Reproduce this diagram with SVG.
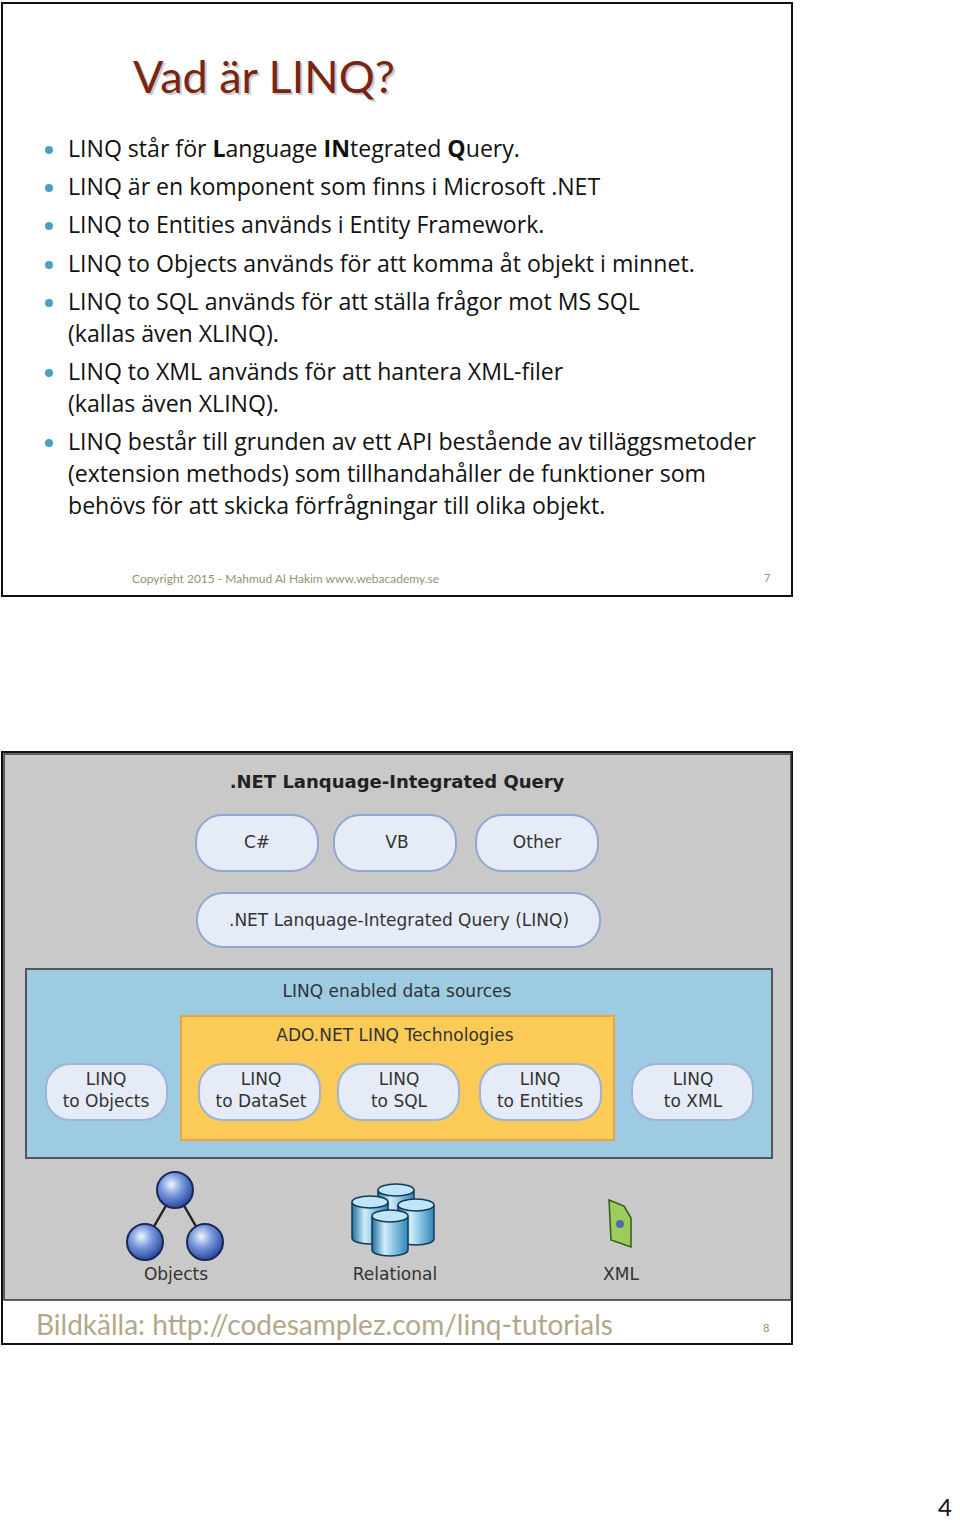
<svg xmlns="http://www.w3.org/2000/svg" width="960" height="1522" viewBox="0 0 960 1522">
<style>
.b{font-family:"Open Sans","Liberation Sans",sans-serif;font-size:23.1px;fill:#111}
.d{font-family:"DejaVu Sans",sans-serif;font-size:17px;fill:#333;text-anchor:middle}
.pill{fill:#e6ecf7;stroke:#8fa6d2;stroke-width:2}
.sp{fill:#e6ecf7;stroke:#9fb3d8;stroke-width:2}
.dot{fill:#4aa0c0}
</style>
<defs>
<radialGradient id="ball" cx="0.4" cy="0.35" r="0.65"><stop offset="0" stop-color="#f2f6ff"/><stop offset="0.45" stop-color="#7c9be0"/><stop offset="1" stop-color="#2a4aa0"/></radialGradient>
<linearGradient id="cyl" x1="0" x2="1"><stop offset="0" stop-color="#1f6f9f"/><stop offset="0.35" stop-color="#cfeefc"/><stop offset="1" stop-color="#2d86b8"/></linearGradient>
</defs>
<rect width="960" height="1522" fill="#fff"/>
<g id="slide1">
<rect x="2" y="3" width="790" height="593" fill="#fff" stroke="#111" stroke-width="2"/>
<text x="135" y="95" font-family="Lato,'Open Sans',sans-serif" font-size="45" fill="#ccc">Vad är LINQ?</text>
<text x="133" y="93" font-family="Lato,'Open Sans',sans-serif" font-size="45" fill="#7a2414">Vad är LINQ?</text>
<g class="dot"><circle cx="49" cy="150" r="4"/><circle cx="49" cy="188" r="4"/><circle cx="49" cy="226" r="4"/><circle cx="49" cy="265" r="4"/><circle cx="49" cy="303" r="4"/><circle cx="49" cy="373" r="4"/><circle cx="49" cy="443" r="4"/></g>
<text class="b" x="68" y="157">LINQ står för <tspan font-weight="bold">L</tspan>anguage <tspan font-weight="bold">IN</tspan>tegrated <tspan font-weight="bold">Q</tspan>uery.</text>
<text class="b" x="68" y="195">LINQ är en komponent som finns i Microsoft .NET</text>
<text class="b" x="68" y="233">LINQ to Entities används i Entity Framework.</text>
<text class="b" x="68" y="272">LINQ to Objects används för att komma åt objekt i minnet.</text>
<text class="b" x="68" y="310">LINQ to SQL används för att ställa frågor mot MS SQL</text>
<text class="b" x="68" y="342">(kallas även XLINQ).</text>
<text class="b" x="68" y="380">LINQ to XML används för att hantera XML-filer</text>
<text class="b" x="68" y="412">(kallas även XLINQ).</text>
<text class="b" x="68" y="450">LINQ består till grunden av ett API bestående av tilläggsmetoder</text>
<text class="b" x="68" y="482">(extension methods) som tillhandahåller de funktioner som</text>
<text class="b" x="68" y="514">behövs för att skicka förfrågningar till olika objekt.</text>
<text x="132" y="583" font-family="Lato,'Open Sans',sans-serif" font-size="12" fill="#9a9070">Copyright 2015 - Mahmud Al Hakim www.webacademy.se</text>
<text x="764" y="582" font-family="Lato,sans-serif" font-size="11" fill="#9a9070">7</text>
</g>
<g id="slide2">
<rect x="2" y="752" width="790" height="592" fill="#fff" stroke="#111" stroke-width="2"/>
<rect x="4" y="754" width="787" height="546" fill="#c9c9c9" stroke="#333" stroke-width="1.5"/>
<text x="397" y="788" font-family="'DejaVu Sans',sans-serif" font-weight="bold" font-size="18" fill="#222" text-anchor="middle">.NET Lanquage-Integrated Query</text>
</g>
<g id="cs"><rect class="pill" x="196" y="815" width="122" height="56" rx="26"/><text class="d" x="257" y="848">C#</text></g>
<g id="vb"><rect class="pill" x="334" y="815" width="122" height="56" rx="26"/><text class="d" x="397" y="848">VB</text></g>
<g id="other"><rect class="pill" x="476" y="815" width="122" height="56" rx="26"/><text class="d" x="537" y="848">Other</text></g>
<g id="linq"><rect class="pill" x="197" y="893" width="403" height="54" rx="26"/><text class="d" x="399" y="926">.NET Lanquage-Integrated Query (LINQ)</text></g>
<g id="sources">
<rect x="26" y="969" width="746" height="189" fill="#9dcbe2" stroke="#555" stroke-width="2"/>
<text class="d" x="397" y="997">LINQ enabled data sources</text>
</g>
<g id="ado">
<rect x="181" y="1016" width="433" height="124" fill="#fccb57" stroke="#e6a542" stroke-width="2"/>
<text class="d" x="395" y="1041">ADO.NET LINQ Technologies</text>
</g>
<g id="lo"><rect class="sp" x="46" y="1064" width="121" height="56" rx="24"/><text class="d" x="106" y="1085">LINQ</text><text class="d" x="106" y="1107">to Objects</text></g>
<g id="ld"><rect class="sp" x="199" y="1064" width="121" height="56" rx="24"/><text class="d" x="261" y="1085">LINQ</text><text class="d" x="261" y="1107">to DataSet</text></g>
<g id="ls"><rect class="sp" x="338" y="1064" width="121" height="56" rx="24"/><text class="d" x="399" y="1085">LINQ</text><text class="d" x="399" y="1107">to SQL</text></g>
<g id="le"><rect class="sp" x="480" y="1064" width="121" height="56" rx="24"/><text class="d" x="540" y="1085">LINQ</text><text class="d" x="540" y="1107">to Entities</text></g>
<g id="lx"><rect class="sp" x="632" y="1064" width="121" height="56" rx="24"/><text class="d" x="693" y="1085">LINQ</text><text class="d" x="693" y="1107">to XML</text></g>
<g id="objects">
<path d="M175 1190 L145 1242 M175 1190 L205 1242" stroke="#222" stroke-width="2.5"/>
<g fill="url(#ball)" stroke="#1a2a55" stroke-width="2"><circle cx="175" cy="1190" r="18"/><circle cx="145" cy="1242" r="18"/><circle cx="205" cy="1242" r="18"/></g>
<text class="d" x="176" y="1280">Objects</text>
</g>
<g id="relational" stroke="#143a5a" stroke-width="1.5">
<g fill="url(#cyl)">
<path d="M378 1190 v36 a18 6 0 0 0 36 0 v-36"/><ellipse cx="396" cy="1190" rx="18" ry="6" fill="#bfe6f8"/>
<path d="M352 1202 v36 a18 6 0 0 0 36 0 v-36"/><ellipse cx="370" cy="1202" rx="18" ry="6" fill="#bfe6f8"/>
<path d="M398 1205 v34 a18 6 0 0 0 36 0 v-34"/><ellipse cx="416" cy="1205" rx="18" ry="6" fill="#bfe6f8"/>
<path d="M372 1216 v34 a18 6 0 0 0 36 0 v-34"/><ellipse cx="390" cy="1216" rx="18" ry="6" fill="#bfe6f8"/>
</g>
<text class="d" x="395" y="1280" stroke="none">Relational</text>
</g>
<g id="xml">
<path d="M609 1200 L624 1206 L631 1218 L631 1247 L611 1240 Z" fill="#9ccc5a" stroke="#3a5a1a" stroke-width="1.5"/>
<circle cx="620" cy="1224" r="4" fill="#4a6ab0"/>
<text class="d" x="621" y="1280">XML</text>
</g>
<text x="36" y="1335" font-family="Lato,'Open Sans',sans-serif" font-size="28" fill="#b2a888">Bildkälla: http://codesamplez.com/linq-tutorials</text>
<text x="763" y="1332" font-family="Lato,sans-serif" font-size="11" fill="#9a9070">8</text>
<text x="938" y="1516" font-family="Lato,'Open Sans',sans-serif" font-size="24" fill="#111">4</text>
</svg>
